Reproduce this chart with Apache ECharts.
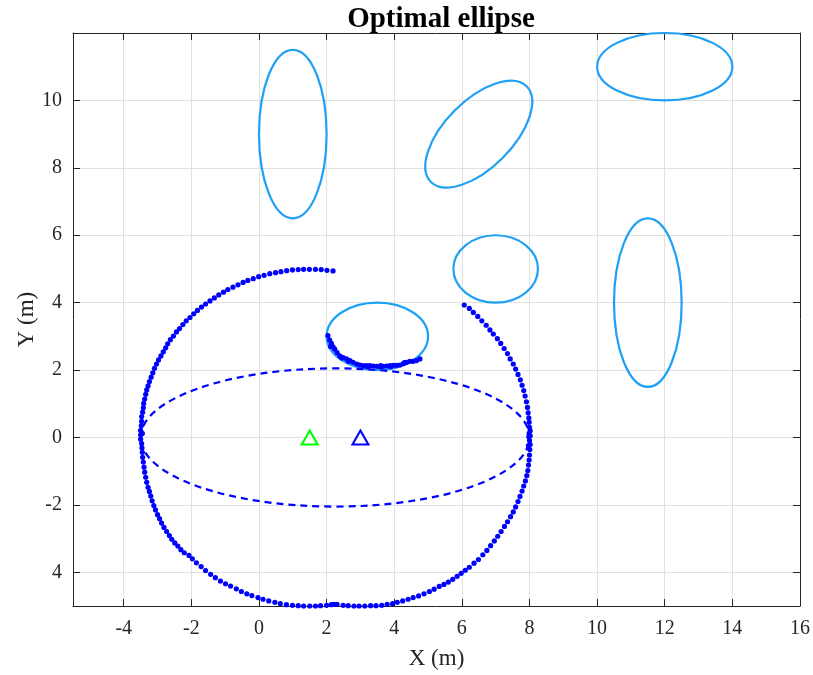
<!DOCTYPE html>
<html><head><meta charset="utf-8">
<script src="https://cdn.jsdelivr.net/npm/echarts@6/dist/echarts.min.js"></script>
<style>html,body{margin:0;padding:0;background:#fff}#c{width:813px;height:675px}</style>
</head><body><div id="c"></div>
<script>
// ---- axis ticks ----
const xTicks = [-4, -2, 0, 2, 4, 6, 8, 10, 12, 14, 16];
const yTicks = [-4, -2, 0, 2, 4, 6, 8, 10];
const yTickLabels = ['4', '-2', '0', '2', '4', '6', '8', '10'];

// ---- sampled trajectory (blue dots) ----
const trajX = [
 2.19, 2.01, 1.84, 1.67, 1.49, 1.32, 1.16, 0.99, 0.82, 0.65, 0.49, 0.32, 0.15, -0.01, -0.17, -0.33, -0.47, -0.62, -0.77, -0.92,
 -1.05, -1.19, -1.32, -1.45, -1.58, -1.70, -1.82, -1.93, -2.04, -2.15, -2.25, -2.35, -2.44, -2.53, -2.62, -2.70, -2.76, -2.83, -2.90, -2.97,
 -3.03, -3.09, -3.14, -3.19, -3.24, -3.28, -3.32, -3.35, -3.38, -3.41, -3.42, -3.44, -3.47, -3.47, -3.48, -3.50, -3.50, -3.50, -3.45, -3.47,
 -3.46, -3.45, -3.44, -3.42, -3.40, -3.38, -3.35, -3.32, -3.28, -3.24, -3.20, -3.16, -3.11, -3.06, -3.00, -2.94, -2.88, -2.81, -2.73, -2.65,
 -2.58, -2.49, -2.40, -2.31, -2.21, -2.07, -1.97, -1.85, -1.71, -1.58, -1.43, -1.29, -1.14, -0.99, -0.84, -0.67, -0.52, -0.36, -0.21, -0.03,
 0.12, 0.29, 0.47, 0.63, 0.81, 0.99, 1.16, 1.32, 1.50, 1.67, 1.82, 2.00, 2.14, 2.22, 2.31, 2.49, 2.64, 2.81, 2.96, 3.13,
 3.30, 3.46, 3.63, 3.79, 3.95, 4.09, 4.25, 4.41, 4.56, 4.72, 4.88, 5.04, 5.18, 5.33, 5.47, 5.60, 5.73, 5.86, 5.98, 6.10,
 6.22, 6.36, 6.49, 6.62, 6.74, 6.85, 6.96, 7.06, 7.16, 7.26, 7.35, 7.44, 7.52, 7.59, 7.66, 7.72, 7.78, 7.83, 7.88, 7.92,
 7.95, 7.97, 7.99, 8.00, 8.01, 8.02, 7.97, 8.00, 8.02, 7.98, 8.02, 7.99, 8.00, 7.99, 7.98, 7.96, 7.94, 7.91, 7.87, 7.83,
 7.78, 7.73, 7.66, 7.59, 7.52, 7.43, 7.35, 7.25, 7.15, 7.05, 6.93, 6.83, 6.72, 6.59, 6.47, 6.34, 6.22, 6.07
];
const trajY = [
 4.94, 4.96, 4.98, 4.99, 4.99, 4.99, 4.98, 4.97, 4.95, 4.92, 4.89, 4.86, 4.81, 4.77, 4.71, 4.66, 4.60, 4.53, 4.46, 4.39,
 4.31, 4.23, 4.14, 4.05, 3.96, 3.87, 3.77, 3.67, 3.56, 3.46, 3.35, 3.23, 3.13, 3.01, 2.90, 2.78, 2.66, 2.54, 2.42, 2.30,
 2.18, 2.05, 1.92, 1.79, 1.66, 1.53, 1.41, 1.28, 1.14, 1.01, 0.88, 0.75, 0.62, 0.48, 0.35, 0.21, 0.08, -0.05, 0.12, -0.18,
 -0.31, -0.44, -0.59, -0.73, -0.88, -1.03, -1.18, -1.33, -1.48, -1.60, -1.74, -1.88, -2.02, -2.15, -2.29, -2.41, -2.54, -2.67, -2.79, -2.91,
 -3.02, -3.13, -3.22, -3.33, -3.42, -3.50, -3.60, -3.72, -3.83, -3.95, -4.06, -4.16, -4.26, -4.34, -4.41, -4.49, -4.57, -4.64, -4.69, -4.75,
 -4.80, -4.85, -4.89, -4.93, -4.96, -4.98, -4.99, -5.00, -5.00, -5.00, -4.99, -4.98, -4.96, -4.95, -4.95, -4.98, -4.99, -5.00, -5.00, -5.00,
 -4.99, -4.99, -4.98, -4.95, -4.93, -4.89, -4.85, -4.80, -4.75, -4.70, -4.64, -4.57, -4.50, -4.42, -4.36, -4.29, -4.21, -4.12, -4.03, -3.94,
 -3.85, -3.73, -3.62, -3.48, -3.35, -3.21, -3.07, -2.93, -2.79, -2.64, -2.50, -2.35, -2.21, -2.06, -1.90, -1.75, -1.59, -1.44, -1.29, -1.13,
 -0.98, -0.82, -0.67, -0.52, -0.36, -0.21, -0.24, -0.09, 0.05, 0.02, 0.20, 0.12, 0.30, 0.45, 0.58, 0.73, 0.89, 1.06, 1.23, 1.39,
 1.55, 1.71, 1.87, 2.03, 2.18, 2.33, 2.49, 2.64, 2.79, 2.93, 3.07, 3.19, 3.33, 3.46, 3.59, 3.71, 3.83, 3.93
];

// ---- dots gathered under the small obstacle ----
const clusterX = [2.04, 2.09, 2.14, 2.19, 2.24, 2.31, 2.39, 2.49, 2.59, 2.69, 2.78, 2.89, 2.98, 3.08, 3.18, 3.28, 3.38, 3.48, 3.58, 3.67,
 3.77, 3.87, 3.97, 4.07, 4.17, 4.27, 4.37, 4.46, 4.56, 4.66, 4.76, 2.12, 2.45, 2.65, 3.20, 3.60, 3.90, 4.30];
const clusterY = [3.02, 2.89, 2.79, 2.69, 2.62, 2.52, 2.42, 2.37, 2.33, 2.28, 2.23, 2.18, 2.15, 2.13, 2.13, 2.13, 2.12, 2.11, 2.10, 2.11,
 2.12, 2.13, 2.14, 2.14, 2.15, 2.19, 2.23, 2.26, 2.26, 2.28, 2.33, 2.70, 2.36, 2.26, 2.10, 2.13, 2.10, 2.22];

// ---- obstacle ellipses (centre, semi-axes, tilt in degrees) ----
const obsCx = [1, 6.5, 12, 7, 11.5, 3.5];
const obsCy = [9, 9, 11, 5, 4, 3];
const obsRx = [1, 2, 2, 1.25, 1, 1.5];
const obsRy = [2.5, 1, 1, 1, 2.5, 1];
const obsAngle = [0, 45, 0, 0, 0, 0];

// ---- optimal ellipse (dashed) ----
const optCx = [2.25];
const optCy = [0];
const optRx = [5.75];
const optRy = [2.05];

// ---- start / goal markers ----
const startX = [1.5], startY = [0];
const goalX = [3], goalY = [0];

const serif = "'Liberation Serif', 'Times New Roman', serif";
const axisColor = '#262626';

function ellipseRenderer(stroke, dash) {
  return function (params, api) {
    const c = api.coord([api.value(0), api.value(1)]);
    const s = api.size([api.value(2), api.value(3)]);
    return {
      type: 'ellipse',
      x: c[0], y: c[1],
      rotation: api.value(4) * Math.PI / 180,
      shape: { cx: 0, cy: 0, rx: s[0], ry: s[1] },
      style: { fill: null, stroke: stroke, lineWidth: 2.2, lineDash: dash }
    };
  };
}

const chart = echarts.init(document.getElementById('c'), null, { renderer: 'canvas' });

const baseX = {
  type: 'value', min: -5.5, max: 16,
  axisLine: { show: true, onZero: false, lineStyle: { color: axisColor, width: 1 } },
  axisTick: { show: true, inside: true, length: 7, customValues: xTicks, lineStyle: { color: axisColor } }
};
const baseY = {
  type: 'value', min: -5, max: 12,
  axisLine: { show: true, onZero: false, lineStyle: { color: axisColor, width: 1 } },
  axisTick: { show: true, inside: true, length: 7, customValues: yTicks, lineStyle: { color: axisColor } }
};

const dotStyle = { color: '#0000ff', opacity: 1 };

chart.setOption({
  animation: false,
  backgroundColor: '#ffffff',
  title: {
    text: 'Optimal ellipse', left: 436, top: 0, textAlign: 'center',
    textStyle: { fontFamily: serif, fontWeight: 'bold', fontSize: 29, color: '#000' }
  },
  grid: { left: 73, right: 13, top: 33, bottom: 68, containLabel: false },
  xAxis: [
    Object.assign({}, baseX, {
      position: 'bottom',
      name: 'X (m)', nameLocation: 'middle', nameGap: 41,
      nameTextStyle: { fontFamily: serif, fontSize: 23, color: axisColor },
      axisLabel: { show: true, customValues: xTicks, margin: 13, fontFamily: serif, fontSize: 20, color: axisColor },
      splitLine: { show: true, lineStyle: { color: '#e1e1e1', width: 1 } }
    }),
    Object.assign({}, baseX, {
      position: 'top', axisLabel: { show: false }, splitLine: { show: false }
    })
  ],
  yAxis: [
    Object.assign({}, baseY, {
      position: 'left',
      name: 'Y (m)', nameLocation: 'middle', nameGap: 35, nameRotate: 90, nameMoveOverlap: false,
      nameTextStyle: { fontFamily: serif, fontSize: 23, color: axisColor },
      axisLabel: {
        show: true, customValues: yTicks, margin: 11, fontFamily: serif, fontSize: 20, color: axisColor,
        formatter: function (v) { const i = yTicks.indexOf(v); return i >= 0 ? yTickLabels[i] : ''; }
      },
      splitLine: { show: true, lineStyle: { color: '#e1e1e1', width: 1 } }
    }),
    Object.assign({}, baseY, {
      position: 'right', axisLabel: { show: false }, splitLine: { show: false }
    })
  ],
  series: [
    {
      type: 'custom', name: 'obstacles', xAxisIndex: 0, yAxisIndex: 0, z: 3,
      renderItem: ellipseRenderer('#1ea0f5', null),
      data: obsCx.map((c, i) => [c, obsCy[i], obsRx[i], obsRy[i], obsAngle[i]])
    },
    {
      type: 'custom', name: 'optimal', xAxisIndex: 0, yAxisIndex: 0, z: 3,
      renderItem: ellipseRenderer('#0000ff', [7, 5]),
      data: optCx.map((c, i) => [c, optCy[i], optRx[i], optRy[i], 0])
    },
    {
      type: 'scatter', name: 'trajectory', xAxisIndex: 0, yAxisIndex: 0, z: 4,
      symbol: 'circle', symbolSize: 5.2,
      itemStyle: dotStyle,
      data: trajX.map((x, i) => [x, trajY[i]])
    },
    {
      type: 'scatter', name: 'cluster', xAxisIndex: 0, yAxisIndex: 0, z: 4,
      symbol: 'circle', symbolSize: 5.2,
      itemStyle: dotStyle,
      data: clusterX.map((x, i) => [x, clusterY[i]])
    },
    {
      type: 'scatter', name: 'start', xAxisIndex: 0, yAxisIndex: 0, z: 5,
      symbol: 'triangle', symbolSize: [16, 14],
      itemStyle: { color: 'rgba(0,0,0,0)', opacity: 1, borderColor: '#00ff00', borderWidth: 2 },
      data: startX.map((x, i) => [x, startY[i]])
    },
    {
      type: 'scatter', name: 'goal', xAxisIndex: 0, yAxisIndex: 0, z: 5,
      symbol: 'triangle', symbolSize: [16, 14],
      itemStyle: { color: 'rgba(0,0,0,0)', opacity: 1, borderColor: '#0000ff', borderWidth: 2 },
      data: goalX.map((x, i) => [x, goalY[i]])
    }
  ]
});
</script>
</body></html>
